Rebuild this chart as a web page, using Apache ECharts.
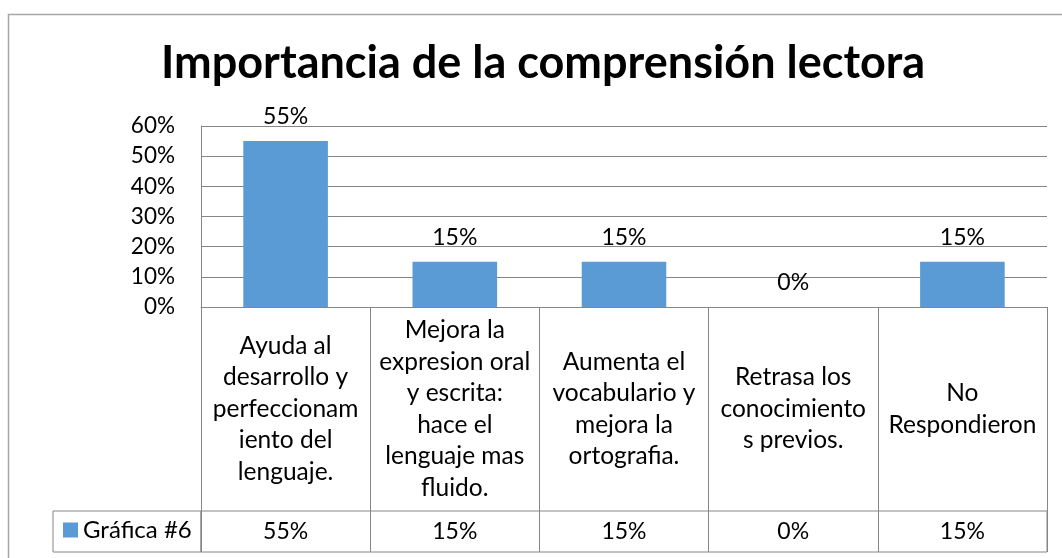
<!DOCTYPE html>
<html>
<head>
<meta charset="utf-8">
<script src="https://cdn.jsdelivr.net/npm/echarts@6/dist/echarts.min.js"></script>
<style>
html,body{margin:0;padding:0;background:#fff;}
#c{width:1062px;height:558px;}
</style>
</head>
<body>
<div id="c"></div>
<script>
const titleText = 'Importancia de la comprensión lectora';
const seriesName = 'Gráfica #6';
const categories = [
  'Ayuda al\ndesarrollo y\nperfeccionam\niento del\nlenguaje.',
  'Mejora la\nexpresion oral\ny escrita:\nhace el\nlenguaje mas\nfluido.',
  'Aumenta el\nvocabulario y\nmejora la\nortografia.',
  'Retrasa los\nconocimiento\ns previos.',
  'No\nRespondieron'
];
const values = [0.55, 0.15, 0.15, 0.00, 0.15];
const yTicks = { min: 0, max: 0.6, interval: 0.1 };

const FONT = 'Lato';
const GRID_C = '#868686';
const pct = v => Math.round(v * 100) + '%';

const chart = echarts.init(document.getElementById('c'), null, { renderer: 'canvas' });
chart.setOption({
  backgroundColor: '#fff',
  animation: false,
  textStyle: { fontFamily: FONT },
  title: {
    text: titleText,
    left: 161,
    top: 41,
    padding: 0,
    textStyle: { fontFamily: FONT, fontWeight: 'bold', fontSize: 45, color: '#000' }
  },
  graphic: [{
    type: 'rect',
    shape: { x: 8.5, y: 14.5, width: 1100, height: 600 },
    style: { fill: 'none', stroke: '#A6A6A6', lineWidth: 1.5 },
    silent: true, z: -1
  }],
  legend: {
    data: [seriesName],
    left: 63,
    top: 518,
    padding: 0,
    itemWidth: 15,
    itemHeight: 15,
    itemGap: 5,
    icon: 'rect',
    textStyle: { fontFamily: FONT, fontSize: 24, color: '#000' }
  },
  grid: [
    { left: 201, right: 15, top: 126, height: 181 },
    { left: 201, right: 15, top: 511, height: 41, show: true, borderColor: GRID_C, borderWidth: 1 },
    { left: 53, width: 148, top: 511, height: 41, show: true, borderColor: GRID_C, borderWidth: 1 }
  ],
  xAxis: [
    {
      type: 'category', gridIndex: 0, data: categories,
      axisLine: { lineStyle: { color: GRID_C, width: 1 } },
      axisTick: { show: true, length: 245, lineStyle: { color: GRID_C, width: 1 } },
      axisLabel: {
        interval: 0, fontFamily: FONT, fontSize: 24.5, lineHeight: 31.5, color: '#000',
        verticalAlign: 'middle', margin: 102
      }
    },
    {
      type: 'category', gridIndex: 1, data: categories, position: 'top',
      axisLine: { show: false }, axisTick: { show: false },
      axisLabel: {
        interval: 0, inside: true, margin: 21, verticalAlign: 'middle',
        fontFamily: FONT, fontSize: 23, color: '#000',
        formatter: (v, i) => pct(values[i])
      }
    },
    { type: 'value', gridIndex: 2, show: false }
  ],
  yAxis: [
    {
      type: 'value', gridIndex: 0, min: yTicks.min, max: yTicks.max, interval: yTicks.interval,
      axisLine: { show: true, lineStyle: { color: GRID_C, width: 1 } },
      axisTick: { show: false },
      splitLine: { lineStyle: { color: GRID_C, width: 1 } },
      axisLabel: { fontFamily: FONT, fontSize: 22.5, color: '#000', margin: 26, formatter: v => pct(v) }
    },
    { type: 'value', gridIndex: 1, show: false },
    { type: 'value', gridIndex: 2, show: false }
  ],
  series: [{
    name: seriesName,
    type: 'bar',
    xAxisIndex: 0, yAxisIndex: 0,
    data: values,
    barWidth: '50%',
    itemStyle: { color: '#5B9BD5' },
    label: {
      show: true, position: 'top', distance: 13,
      fontFamily: FONT, fontSize: 23, color: '#000',
      formatter: p => pct(p.value)
    }
  }]
});
</script>
</body>
</html>
